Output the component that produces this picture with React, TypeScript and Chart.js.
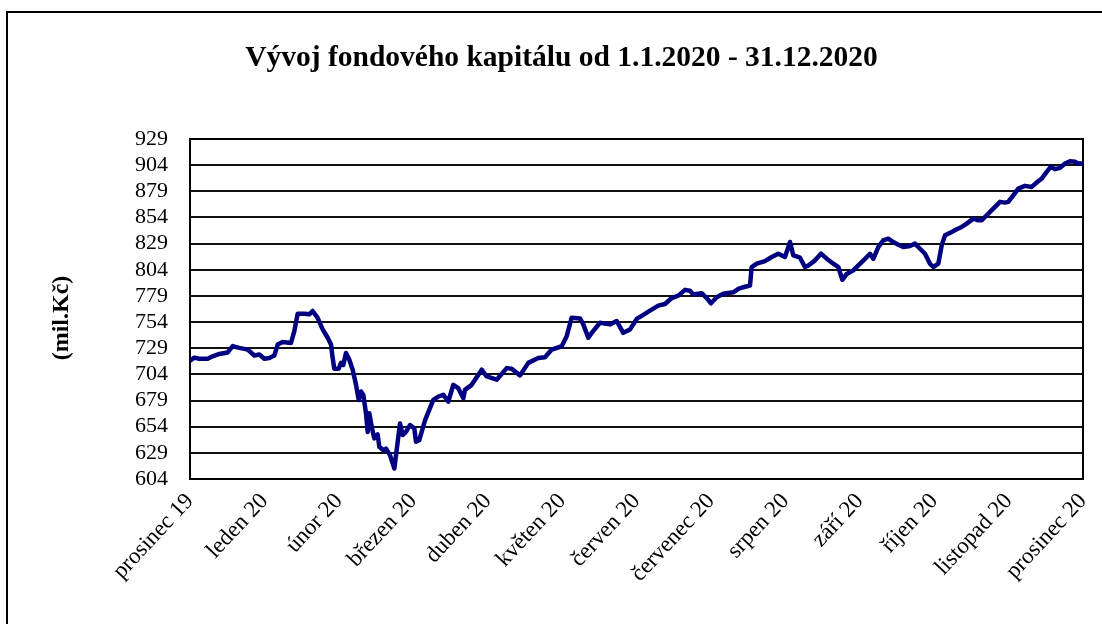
import React, { useEffect, useRef } from "react";
import { Chart, registerables } from "chart.js";

Chart.register(...registerables);

const chartTitle = "Vývoj fondového kapitálu od 1.1.2020 - 31.12.2020";
const yAxisTitle = "(mil.Kč)";

const monthLabels = [
  "prosinec 19",
  "leden 20",
  "únor 20",
  "březen 20",
  "duben 20",
  "květen 20",
  "červen 20",
  "červenec 20",
  "srpen 20",
  "září 20",
  "říjen 20",
  "listopad 20",
  "prosinec 20",
];

const yTicks = [604, 629, 654, 679, 704, 729, 754, 779, 804, 829, 854, 879, 904, 929];

// position along the time axis, in months after the "prosinec 19" tick
const timeMonths = [
  0.0, 0.058, 0.125, 0.238, 0.305, 0.394, 0.506, 0.573, 0.663, 0.775, 0.865, 0.932, 0.999,
  1.066, 1.133, 1.178, 1.245, 1.357, 1.402, 1.447, 1.536, 1.603, 1.648, 1.715, 1.783, 1.85,
  1.895, 1.917, 1.939, 1.998, 2.029, 2.06, 2.096, 2.141, 2.186, 2.231, 2.267, 2.298, 2.329,
  2.365, 2.388, 2.41, 2.446, 2.477, 2.522, 2.544, 2.598, 2.634, 2.687, 2.746, 2.791, 2.822,
  2.858, 2.902, 2.956, 3.014, 3.037, 3.08, 3.158, 3.269, 3.337, 3.404, 3.471, 3.538, 3.605,
  3.673, 3.695, 3.785, 3.92, 3.987, 4.121, 4.256, 4.323, 4.434, 4.546, 4.68, 4.77, 4.86,
  4.995, 5.062, 5.129, 5.241, 5.285, 5.352, 5.398, 5.509, 5.644, 5.734, 5.822, 5.913, 6.003,
  6.07, 6.181, 6.293, 6.383, 6.473, 6.562, 6.652, 6.719, 6.763, 6.876, 6.943, 7.001, 7.078,
  7.166, 7.301, 7.368, 7.435, 7.525, 7.548, 7.615, 7.727, 7.817, 7.905, 7.995, 8.063, 8.107,
  8.197, 8.264, 8.309, 8.399, 8.479, 8.556, 8.645, 8.712, 8.766, 8.825, 8.913, 8.981, 9.071,
  9.138, 9.182, 9.249, 9.316, 9.384, 9.451, 9.518, 9.585, 9.675, 9.742, 9.81, 9.877, 9.944,
  9.988, 10.056, 10.101, 10.146, 10.236, 10.303, 10.37, 10.437, 10.526, 10.593, 10.639,
  10.706, 10.794, 10.885, 10.952, 10.996, 11.063, 11.13, 11.22, 11.311, 11.378, 11.445,
  11.512, 11.566, 11.624, 11.691, 11.758, 11.825, 11.892, 11.937, 12.0,
];

// fund capital, mil. Kč
const fundCapital = [
  717, 720, 719, 719, 721.3, 723.5, 725, 731, 729.3, 727.7, 722, 723, 719,
  719.7, 722, 732.5, 735, 734, 745.4, 762, 762, 761.4, 764.6, 758, 747, 739,
  732.5, 719.7, 709.4, 709.4, 715, 713, 724.5, 718, 708.5, 694, 679.6, 687.7, 684.4,
  666.8, 649, 666.8, 652.4, 642.8, 646.6, 634.8, 631.5, 633, 626.8, 614, 639.6, 657,
  646, 649, 655.6, 652.4, 639.6, 641, 660, 679.6, 682.8, 684.4, 678, 694, 690.8,
  681.2, 689.2, 694, 708.5, 702, 698.9, 710, 709.4, 703, 715, 719.7, 720.3, 727.7,
  730.9, 740.5, 758.2, 757.5, 751.8, 739, 743.7, 753.4, 751.8, 755, 743.7, 747, 757,
  760, 765, 769.7, 771.3, 777, 779.3, 784.8, 784, 780.3, 781.6, 777, 772, 777.7,
  781, 782.5, 785.7, 787.3, 789, 806.6, 809.8, 812.3, 816.2, 819.4, 816.2, 830.6, 817.8,
  815.5, 806.6, 808, 813, 819.4, 814.6, 809.8, 806.6, 794.4, 800, 803.4, 808.2, 814.5,
  819.3, 814.5, 825.7, 832, 833.7, 830.5, 828, 825.7, 826.7, 829, 824.1, 819.3, 809.8,
  806.6, 809.8, 827.3, 836.9, 840.1, 842.7, 844.9, 848.1, 852.9, 851.3, 851.3,
  856.1, 862.5, 868.9, 868.2, 868.9, 875.2, 881.6, 884.2, 883.2, 887.4, 891.2,
  897.6, 902.4, 900.2, 901.4, 905.6, 907.8, 907.2, 905.6, 905.6,
];

const SERIF = '"Liberation Serif", "Times New Roman", serif';

const plotFrame = {
  id: "plotFrame",
  beforeDatasetsDraw(chart: any) {
    const { ctx, chartArea: a } = chart;
    ctx.save();
    ctx.strokeStyle = "#000";
    ctx.lineWidth = 2;
    ctx.strokeRect(a.left, a.top, a.right - a.left, a.bottom - a.top);
    ctx.restore();
  },
};

const sideTitle = {
  id: "sideTitle",
  afterDraw(chart: any) {
    const { ctx, chartArea: a } = chart;
    ctx.save();
    ctx.translate(a.left - 128, (a.top + a.bottom) / 2 + 9);
    ctx.rotate(-Math.PI / 2);
    ctx.font = `bold 24px ${SERIF}`;
    ctx.fillStyle = "#000";
    ctx.textAlign = "center";
    ctx.textBaseline = "middle";
    ctx.fillText(yAxisTitle, 0, 0);
    ctx.restore();
  },
};

export default function App() {
  const canvasRef = useRef<HTMLCanvasElement | null>(null);

  useEffect(() => {
    const canvas = canvasRef.current;
    if (!canvas) return;
    const points = timeMonths.map((t, i) => ({ x: t, y: fundCapital[i] }));
    const chart = new Chart(canvas, {
      type: "line",
      data: {
        datasets: [
          {
            label: "Fondový kapitál",
            data: points,
            borderColor: "#000080",
            borderWidth: 4.5,
            pointRadius: 0,
            tension: 0,
            borderJoinStyle: "round",
            borderCapStyle: "round",
            fill: false,
          },
        ],
      },
      options: {
        responsive: false,
        animation: false,
        devicePixelRatio: 1,
        parsing: false,
        layout: { padding: { left: 40, right: 19, top: 0, bottom: 0 } },
        plugins: {
          legend: { display: false },
          tooltip: { enabled: false },
          title: {
            display: true,
            text: chartTitle,
            color: "#000",
            font: { family: SERIF, size: 29.5, weight: "bold" },
            padding: { top: 41, bottom: 62.6 },
          },
        },
        scales: {
          x: {
            type: "linear",
            min: 0,
            max: 12,
            afterBuildTicks: (scale: any) => {
              scale.ticks = monthLabels.map((_, i) => ({ value: i }));
            },
            afterFit: (scale: any) => {
              scale.height = 145;
              scale.paddingRight = 0;
              scale.paddingLeft = 0;
            },
            grid: { display: false, drawTicks: false },
            border: { display: false },
            ticks: {
              autoSkip: false,
              maxRotation: 47,
              minRotation: 47,
              padding: 9,
              color: "#000",
              font: { family: SERIF, size: 23 },
              callback: (value: any) => monthLabels[Math.round(Number(value))] ?? "",
            },
          },
          y: {
            type: "linear",
            min: 604,
            max: 929,
            afterBuildTicks: (scale: any) => {
              scale.ticks = yTicks.map((v) => ({ value: v }));
            },
            afterFit: (scale: any) => {
              scale.width = 150;
            },
            grid: { color: "#111", lineWidth: 2, drawTicks: false },
            border: { display: true, color: "#000", width: 2 },
            ticks: {
              padding: 22,
              color: "#000",
              font: { family: SERIF, size: 22 },
              autoSkip: false,
            },
          },
        },
      },
      plugins: [plotFrame, sideTitle],
    } as any);
    return () => chart.destroy();
  }, []);

  return (
    <div
      style={{
        position: "fixed",
        left: 0,
        top: 0,
        width: 1102,
        height: 624,
        overflow: "hidden",
        background: "#fff",
      }}
    >
      <div
        style={{
          position: "absolute",
          left: 6,
          top: 11,
          width: 1200,
          height: 800,
          border: "2px solid #000",
          boxSizing: "border-box",
        }}
      />
      <canvas
        ref={canvasRef}
        width={1102}
        height={624}
        style={{ position: "absolute", left: 0, top: 0, width: 1102, height: 624 }}
      />
    </div>
  );
}
